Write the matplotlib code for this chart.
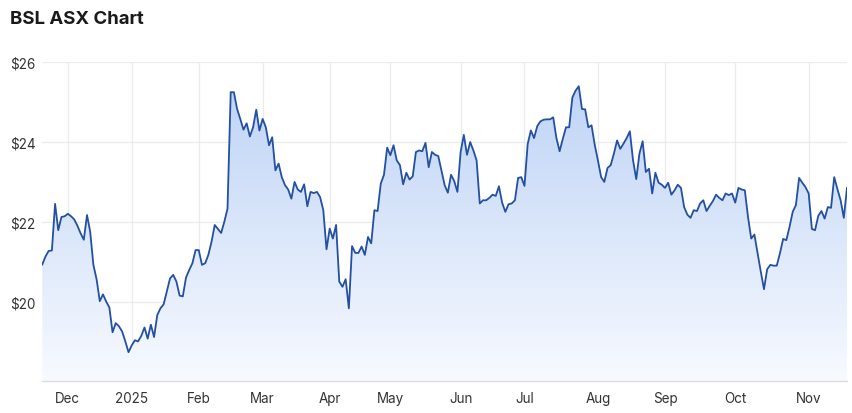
import numpy as np
import pandas as pd
import matplotlib
matplotlib.use("Agg")
import matplotlib.pyplot as plt

# ---- data ----
title = "BSL ASX Chart"
start_date = "2024-11-20"
end_date = "2025-11-19"
asx_holidays = ["2024-12-25", "2024-12-26", "2025-01-01", "2025-01-27",
                "2025-04-18", "2025-04-21", "2025-04-25", "2025-06-09"]

prices = [
    20.93, 21.13, 21.27, 21.28, 22.45, 21.79, 22.12, 22.14, 22.20, 22.14,
    22.06, 21.90, 21.71, 21.55, 22.17, 21.75, 20.92, 20.56, 20.01, 20.18,
    20.00, 19.85, 19.23, 19.46, 19.38, 19.25, 19.00, 18.73, 18.90, 19.03,
    19.00, 19.14, 19.35, 19.07, 19.42, 19.11, 19.66, 19.83, 19.93, 20.25,
    20.58, 20.67, 20.50, 20.15, 20.13, 20.60, 20.79, 20.96, 21.29, 21.29,
    20.92, 20.96, 21.17, 21.50, 21.92, 21.82, 21.72, 22.00, 22.33, 25.25,
    25.25, 24.83, 24.58, 24.31, 24.47, 24.14, 24.37, 24.81, 24.29, 24.58,
    24.37, 23.92, 24.12, 23.29, 23.46, 23.12, 22.92, 22.81, 22.58, 23.00,
    22.81, 22.75, 22.94, 22.39, 22.75, 22.72, 22.75, 22.62, 22.29, 21.31,
    21.83, 21.58, 21.92, 20.50, 20.37, 20.56, 19.83, 21.39, 21.22, 21.22,
    21.38, 21.17, 21.62, 21.46, 22.29, 22.27, 22.96, 23.18, 23.86, 23.67,
    23.92, 23.54, 23.42, 22.94, 23.23, 23.06, 23.14, 23.75, 23.79, 23.77,
    23.98, 23.37, 23.75, 23.68, 23.65, 23.29, 22.92, 22.73, 23.18, 23.02,
    22.75, 23.75, 24.18, 23.68, 24.00, 23.79, 23.54, 22.46, 22.54, 22.54,
    22.60, 22.68, 22.65, 22.89, 22.48, 22.25, 22.44, 22.46, 22.54, 23.10,
    23.12, 22.90, 23.95, 24.29, 24.10, 24.40, 24.52, 24.56, 24.57, 24.57,
    24.62, 24.10, 23.77, 24.08, 24.37, 24.37, 25.12, 25.29, 25.40, 24.83,
    24.82, 24.37, 24.42, 23.93, 23.54, 23.12, 23.00, 23.35, 23.42, 23.71,
    24.04, 23.83, 23.96, 24.10, 24.27, 23.54, 23.07, 23.71, 24.02, 23.25,
    23.33, 22.71, 23.23, 22.98, 22.93, 22.85, 22.98, 22.68, 22.79, 22.93,
    22.85, 22.37, 22.18, 22.10, 22.29, 22.27, 22.46, 22.54, 22.27, 22.40,
    22.52, 22.68, 22.60, 22.54, 22.71, 22.67, 22.71, 22.48, 22.85, 22.81,
    22.79, 22.12, 21.58, 21.68, 21.21, 20.75, 20.31, 20.81, 20.92, 20.90,
    20.90, 21.21, 21.57, 21.54, 21.87, 22.25, 22.42, 23.10, 22.98, 22.87,
    22.71, 21.82, 21.79, 22.15, 22.27, 22.08, 22.37, 22.35, 23.12, 22.82,
    22.54, 22.10, 22.85,
]
y_ticks = [20, 22, 24, 26]
y_min, y_max = 18, 26

# ---- build trading-day axis ----
dates = pd.bdate_range(start_date, end_date)
dates = dates[~dates.isin(pd.to_datetime(asx_holidays))]
n = min(len(dates), len(prices))
dates = dates[:n]
y = np.array(prices[:n])
x = np.arange(n)

month_pos, month_lab = [], []
for i in range(1, n):
    if dates[i].month != dates[i - 1].month:
        month_pos.append(i)
        month_lab.append(str(dates[i].year) if dates[i].month == 1 else dates[i].strftime("%b"))

# ---- figure ----
plt.rcParams['font.family'] = ['Inter', 'DejaVu Sans']
fig = plt.figure(figsize=(8.53, 4.14), dpi=100)
L, R, T, B = 42.3, 847.0, 63.3, 382.3
ax = fig.add_axes([L / 853, 1 - B / 414, (R - L) / 853, (B - T) / 414])

ax.set_xlim(0, n - 1)
ax.set_ylim(y_min, y_max)

# gradient fill under the line
poly = ax.fill_between(x, y, y_min, color="none", lw=0)
grad = np.linspace(0, 1, 256).reshape(-1, 1)
top_c = np.array([0.73, 0.82, 0.96])
bot_c = np.array([0.97, 0.98, 1.0])
img = top_c[None, None, :] * (1 - grad[:, :, None]) + bot_c[None, None, :] * grad[:, :, None]
im = ax.imshow(img, extent=[0, n - 1, y_min, y_max], aspect="auto", origin="upper", zorder=1)
paths = poly.get_paths()
im.set_clip_path(paths[0], transform=ax.transData)

ax.plot(x, y, color="#2350a0", lw=1.3, zorder=3)

# grid
ax.set_yticks(y_ticks)
ax.set_yticklabels([f"${v}" for v in y_ticks])
ax.set_xticks(month_pos)
ax.set_xticklabels(month_lab)
ax.grid(True, color="#ebebeb", lw=0.9, zorder=0)
ax.set_axisbelow(True)
for s in ["top", "right", "left"]:
    ax.spines[s].set_visible(False)
ax.spines["bottom"].set_color("#dcdcdc")
ax.spines["bottom"].set_linewidth(1.0)
ax.tick_params(axis="both", length=0, colors="#333333", labelsize=9.7)
ax.tick_params(axis="x", pad=7)
ax.tick_params(axis="y", pad=5)

fig.text(10 / 853, 1 - 19 / 414, title, fontsize=13.4, fontweight="bold",
         color="#1a1a1a", va="center", ha="left")

fig.savefig("out.png", dpi=100)
